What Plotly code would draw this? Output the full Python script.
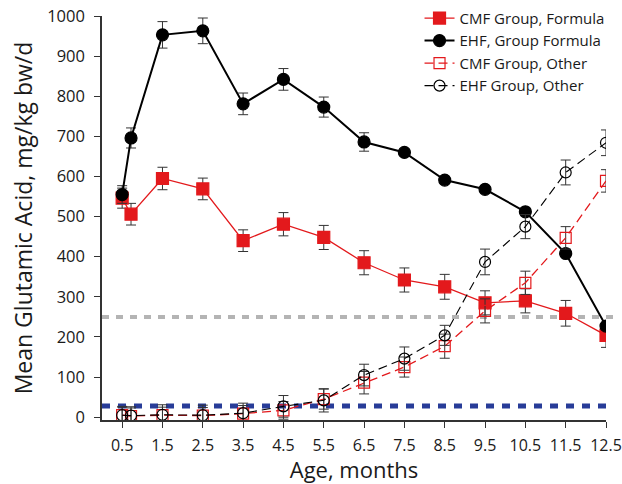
import plotly.graph_objects as go

ages = [0.5, 0.72, 1.5, 2.5, 3.5, 4.5, 5.5, 6.5, 7.5, 8.5, 9.5, 10.5, 11.5, 12.5]
tick_vals = [0.5, 1.5, 2.5, 3.5, 4.5, 5.5, 6.5, 7.5, 8.5, 9.5, 10.5, 11.5, 12.5]
tick_text = ["0.5", "1.5", "2.5", "3.5", "4.5", "5.5", "6.5", "7.5", "8.5", "9.5", "10.5", "11.5", "12.5"]

cmf_formula = [546, 506, 595, 569, 440, 481, 448, 385, 342, 325, 285, 290, 259, 204]
cmf_formula_err = [25, 27, 28, 27, 27, 29, 30, 30, 30, 31, 30, 30, 32, 30]

ehf_formula = [555, 696, 953, 963, 781, 842, 773, 686, 660, 591, 568, 512, 408, 227]
ehf_formula_err = [22, 25, 33, 32, 27, 27, 25, 23, 8, 8, 8, 8, 8, 8]

cmf_other = [5, 3, 5, 4, 9, 17, 45, 86, 125, 177, 265, 335, 447, 589]
cmf_other_err = [20, 20, 20, 20, 20, 22, 25, 28, 25, 30, 30, 29, 28, 28]

ehf_other = [5, 4, 6, 5, 10, 27, 42, 105, 146, 204, 387, 475, 610, 684]
ehf_other_err = [22, 22, 25, 25, 25, 27, 29, 27, 29, 25, 32, 30, 31, 32]

ref_upper = 250
ref_lower = 28

RED = "#e3191c"
BLACK = "#000000"
ERR = "#333333"

fig = go.Figure()

def add(name, y, err, color, symbol, size, dash, width):
    fig.add_trace(go.Scatter(
        x=ages, y=y, name=name, mode="lines+markers",
        line=dict(color=color, width=width, dash=dash),
        marker=dict(symbol=symbol, size=size, color=color,
                    line=dict(color=color, width=1.2)),
        error_y=dict(type="data", array=err, visible=True,
                     color=ERR, thickness=1, width=5),
    ))

add("CMF Group, Formula", cmf_formula, cmf_formula_err, RED, "square", 12, "solid", 1.3)
add("EHF, Group Formula", ehf_formula, ehf_formula_err, BLACK, "circle", 12, "solid", 2)
add("CMF Group, Other", cmf_other, cmf_other_err, RED, "square-open", 11, "9px,5px", 1.3)
add("EHF Group, Other", ehf_other, ehf_other_err, BLACK, "circle-open", 11, "9px,5px", 1.1)

fig.add_shape(type="line", xref="paper", yref="y", x0=0, x1=1.022,
              y0=ref_upper, y1=ref_upper, layer="below",
              line=dict(color="#b4b4b4", width=4, dash="7px,7px"))
fig.add_shape(type="line", xref="paper", yref="y", x0=0, x1=1.0,
              y0=ref_lower, y1=ref_lower, layer="below",
              line=dict(color="#283c98", width=5, dash="8px,8px"))

FONT = "Open Sans"
fig.update_layout(
    width=622, height=484,
    margin=dict(l=102, r=16, t=16, b=64, autoexpand=False),
    paper_bgcolor="white", plot_bgcolor="white",
    font=dict(family=FONT, color="#1a1a1a"),
    showlegend=True,
    legend=dict(x=0.630, y=1.035, xanchor="left", yanchor="top",
                font=dict(size=15, family=FONT, color="#1a1a1a"),
                bgcolor="rgba(0,0,0,0)", tracegroupgap=0),
    xaxis=dict(range=[0, 12.5], tickvals=tick_vals, ticktext=tick_text,
               showgrid=False, zeroline=False, showline=True, automargin=False,
               linecolor="#333333", linewidth=1.5, ticks="outside",
               ticklen=6, tickcolor="#333333", ticklabelstandoff=4,
               tickfont=dict(size=16, family=FONT),
               title=dict(text="Age, months", font=dict(size=22, family=FONT), standoff=2)),
    yaxis=dict(range=[-7, 1000], tickvals=[0, 100, 200, 300, 400, 500, 600, 700, 800, 900, 1000],
               showgrid=False, zeroline=False, showline=True, automargin=False,
               linecolor="#333333", linewidth=1.5, ticks="outside",
               ticklen=6, tickcolor="#333333", ticklabelstandoff=6,
               tickfont=dict(size=16.5, family=FONT),
               title=dict(text="Mean Glutamic Acid, mg/kg bw/d", font=dict(size=23, family=FONT), standoff=8)),
)

fig.write_html("out.html")
